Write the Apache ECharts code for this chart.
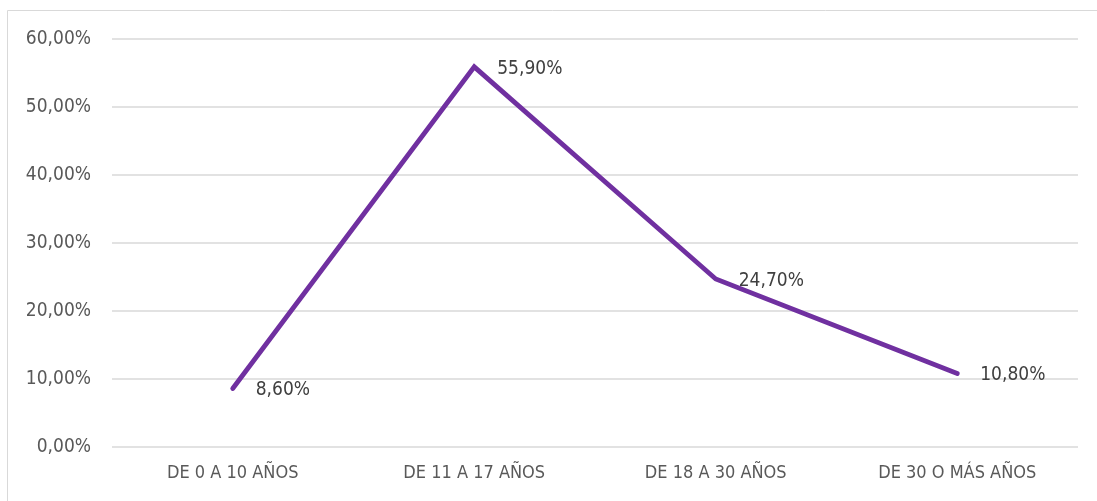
<!DOCTYPE html>
<html>
<head>
<meta charset="UTF-8">
<title>Edades</title>
<script src="https://cdn.jsdelivr.net/npm/echarts@6/dist/echarts.min.js"></script>
<style>
html, body { margin: 0; padding: 0; background: #fff; }
#chart { width: 1097px; height: 501px; }
</style>
</head>
<body>
<div id="chart"></div>
<script>
// datos del gráfico
var categorias = ['DE 0 A 10 AÑOS', 'DE 11 A 17 AÑOS', 'DE 18 A 30 AÑOS', 'DE 30 O MÁS AÑOS'];
var porcentajes = [8.6, 55.9, 24.7, 10.8];

function fmt(v) {
    return v.toFixed(2).replace('.', ',') + '%';
}

var fuente = 'DejaVu Sans Condensed';
var chart = echarts.init(document.getElementById('chart'));
chart.setOption({
    animation: false,
    grid: { left: 112, right: 19, top: 39, bottom: 54 },
    graphic: [{
        type: 'rect',
        shape: { x: 7.5, y: 10.5, width: 1200, height: 600 },
        style: { fill: 'none', stroke: '#d9d9d9', lineWidth: 1 }
    }],
    xAxis: {
        type: 'category',
        data: categorias,
        axisLine: { show: false },
        axisTick: { show: false },
        axisLabel: { color: '#595959', fontFamily: fuente, fontSize: 18, margin: 17 }
    },
    yAxis: {
        type: 'value',
        min: 0, max: 60, interval: 10,
        axisLabel: {
            color: '#595959', fontFamily: fuente, fontSize: 19, margin: 21,
            formatter: function (v) { return fmt(v); }
        },
        splitLine: { lineStyle: { color: '#d9d9d9', width: 1.5 } }
    },
    series: [{
        type: 'line',
        data: porcentajes,
        symbol: 'circle',
        symbolSize: 2,
        // punto invisible, solo para colgar la etiqueta
        itemStyle: { color: 'rgba(0,0,0,0)', borderWidth: 0 },
        lineStyle: { color: '#7030a0', width: 4.8, cap: 'round', join: 'miter' },
        label: {
            show: true,
            position: 'right',
            distance: 22,
            offset: [0, 2],
            color: '#404040',
            fontFamily: fuente,
            fontSize: 19,
            formatter: function (p) { return fmt(p.value); }
        }
    }]
});
</script>
</body>
</html>
